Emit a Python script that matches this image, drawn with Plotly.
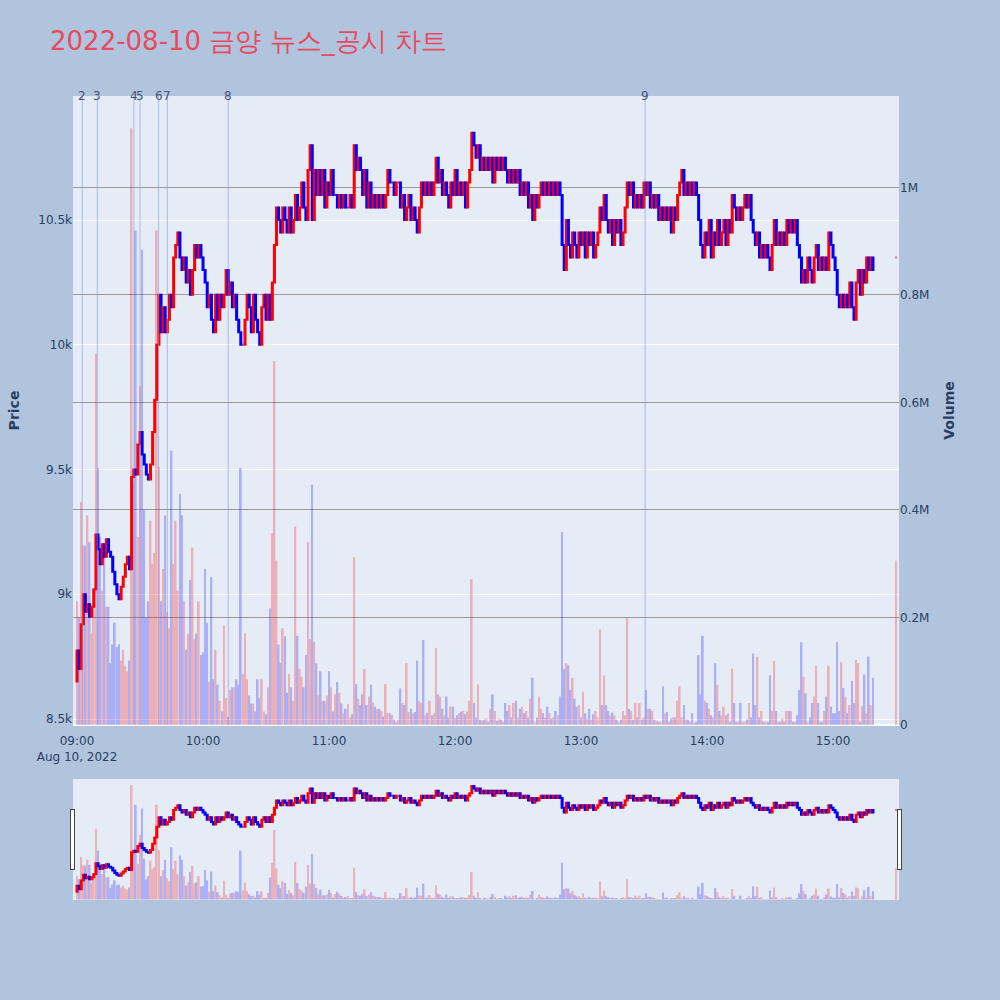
import plotly.graph_objects as go
import pandas as pd

# ---- data ----
session_start = "2022-08-10 09:00"
first_open = 8650
# minute closes 09:00 .. 15:19
closes = [
    8775, 8700, 8880, 9000, 8930, 8960, 8910, 8950, 9020, 9240,
    9180, 9120, 9200, 9150, 9220, 9170, 9150, 9090, 9040, 9000,
    8980, 9030, 9070, 9120, 9150, 9100, 9470, 9500, 9480, 9600,
    9650, 9560, 9520, 9480, 9460, 9520, 9650, 9780, 10000, 10200,
    10050, 10150, 10050, 10100, 10200, 10150, 10350, 10400, 10450, 10350,
    10300, 10350, 10250, 10300, 10200, 10300, 10400, 10350, 10400, 10350,
    10300, 10250, 10150, 10200, 10100, 10050, 10200, 10100, 10200, 10150,
    10200, 10300, 10200, 10250, 10150, 10200, 10100, 10050, 10000, 10000,
    10100, 10200, 10150, 10050, 10200, 10100, 10050, 10000, 10150, 10200,
    10100, 10200, 10100, 10250, 10400, 10550, 10500, 10450, 10550, 10500,
    10450, 10550, 10450, 10500, 10600, 10500, 10550, 10650, 10550, 10500,
    10700, 10800, 10500, 10700, 10600, 10700, 10600, 10700, 10550, 10650,
    10600, 10700, 10600, 10600, 10550, 10600, 10550, 10600, 10550, 10550,
    10600, 10550, 10800, 10700, 10750, 10700, 10600, 10700, 10550, 10650,
    10550, 10600, 10550, 10600, 10550, 10600, 10550, 10600, 10700, 10650,
    10650, 10600, 10650, 10650, 10550, 10600, 10500, 10550, 10600, 10500,
    10550, 10500, 10450, 10550, 10650, 10600, 10650, 10600, 10650, 10600,
    10650, 10750, 10650, 10700, 10600, 10650, 10600, 10550, 10650, 10600,
    10700, 10600, 10650, 10600, 10650, 10550, 10650, 10700, 10850, 10800,
    10750, 10800, 10700, 10750, 10700, 10750, 10700, 10750, 10650, 10750,
    10700, 10750, 10700, 10750, 10700, 10650, 10700, 10650, 10700, 10650,
    10700, 10600, 10650, 10600, 10650, 10550, 10600, 10500, 10600, 10550,
    10600, 10650, 10600, 10650, 10600, 10650, 10600, 10650, 10600, 10650,
    10600, 10400, 10300, 10500, 10400, 10350, 10450, 10400, 10350, 10450,
    10400, 10450, 10350, 10450, 10400, 10450, 10350, 10400, 10450, 10550,
    10500, 10600, 10500, 10450, 10500, 10400, 10500, 10450, 10500, 10400,
    10450, 10550, 10650, 10600, 10650, 10550, 10600, 10550, 10600, 10550,
    10650, 10600, 10650, 10550, 10600, 10550, 10600, 10500, 10550, 10500,
    10550, 10500, 10550, 10450, 10550, 10500, 10600, 10650, 10700, 10600,
    10650, 10600, 10650, 10600, 10650, 10600, 10500, 10400, 10350, 10450,
    10400, 10500, 10350, 10450, 10400, 10500, 10400, 10450, 10500, 10400,
    10500, 10450, 10600, 10550, 10500, 10550, 10500, 10550, 10600, 10550,
    10600, 10500, 10450, 10400, 10450, 10350, 10400, 10350, 10400, 10350,
    10300, 10400, 10500, 10400, 10450, 10400, 10450, 10400, 10500, 10450,
    10500, 10450, 10500, 10400, 10350, 10250, 10300, 10250, 10350, 10300,
    10250, 10350, 10400, 10300, 10350, 10300, 10350, 10300, 10450, 10400,
    10350, 10300, 10200, 10150, 10200, 10150, 10200, 10150, 10250, 10150,
    10100, 10250, 10300, 10200, 10300, 10250, 10350, 10300, 10350, 10300,
]
# minute volumes, thousand shares
volumes_k = [
    230, 200, 415, 334, 334, 390, 340, 170, 250, 690,
    478, 350, 250, 330, 220, 220, 115, 150, 190, 145,
    150, 120, 140, 110, 100, 120, 1110, 450, 920, 350,
    630, 884, 400, 200, 230, 380, 300, 320, 920, 480,
    230, 290, 390, 210, 180, 510, 300, 380, 250, 430,
    390, 230, 140, 170, 270, 330, 160, 170, 230, 130,
    135, 290, 190, 80, 275, 85, 140, 75, 45, 25,
    185, 50, 15, 65, 70, 70, 85, 75, 478, 95,
    170, 85, 55, 40, 40, 25, 85, 50, 85, 25,
    20, 70, 217, 357, 677, 306, 150, 115, 180, 165,
    60, 95, 70, 45, 369, 166, 105, 90, 70, 130,
    340, 160, 447, 155, 115, 55, 100, 45, 45, 55,
    100, 70, 25, 57, 80, 60, 40, 22, 30, 39,
    14, 20, 312, 76, 49, 37, 57, 104, 37, 53,
    75, 42, 34, 30, 30, 26, 16, 76, 22, 22,
    18, 10, 6, 10, 68, 41, 37, 115, 24, 30,
    22, 24, 120, 45, 41, 158, 18, 22, 45, 18,
    22, 143, 57, 53, 30, 18, 53, 14, 34, 34,
    13, 18, 22, 25, 26, 20, 25, 45, 271, 41,
    14, 76, 10, 8, 10, 12, 6, 30, 57, 26,
    8, 12, 10, 6, 41, 26, 37, 14, 41, 45,
    14, 30, 34, 22, 26, 14, 49, 88, 6, 14,
    53, 30, 22, 14, 34, 22, 12, 14, 26, 18,
    53, 359, 104, 115, 111, 65, 88, 49, 34, 37,
    14, 62, 22, 12, 30, 10, 20, 26, 14, 178,
    37, 92, 37, 26, 18, 23, 18, 10, 6, 10,
    26, 18, 199, 30, 26, 10, 41, 14, 41, 10,
    14, 65, 30, 30, 26, 10, 8, 6, 6, 72,
    22, 24, 6, 12, 14, 14, 45, 72, 14, 37,
    10, 10, 6, 22, 3, 6, 130, 57, 166, 45,
    41, 30, 18, 14, 115, 75, 26, 18, 34, 18,
    22, 6, 105, 41, 6, 6, 41, 6, 6, 10,
    41, 14, 133, 37, 127, 14, 26, 6, 6, 6,
    92, 26, 119, 26, 6, 6, 12, 6, 26, 26,
    26, 6, 6, 18, 65, 154, 90, 59, 6, 14,
    41, 53, 110, 41, 6, 6, 26, 53, 110, 34,
    22, 22, 154, 26, 117, 69, 53, 22, 37, 82,
    41, 121, 115, 6, 35, 94, 22, 127, 37, 88,
]
# closing single-price auction
auction_time = "2022-08-10 15:30"
auction_open = 10350
auction_close = 10350
auction_volume_k = 306

news_labels = ["2", "3", "4", "5", "6", "7", "8", "9"]
news_times = ["2022-08-10 09:02:30", "2022-08-10 09:09:40", "2022-08-10 09:27:05",
              "2022-08-10 09:30:00", "2022-08-10 09:38:50", "2022-08-10 09:43:00",
              "2022-08-10 10:12:00", "2022-08-10 13:30:30"]

# ---- assemble ----
times = list(pd.date_range(session_start, periods=len(closes), freq="min")) + [pd.Timestamp(auction_time)]
opens = [first_open] + closes[:-1] + [auction_open]
cls = closes + [auction_close]
highs = [max(o, c) for o, c in zip(opens, cls)]
lows = [min(o, c) for o, c in zip(opens, cls)]
vols = [v * 1000 for v in volumes_k + [auction_volume_k]]
vol_colors = ["red" if c >= o else "blue" for o, c in zip(opens, cls)]

fig = go.Figure()
fig.add_trace(go.Bar(x=times, y=vols, yaxis="y2", marker=dict(color=vol_colors, line_width=0),
                     opacity=0.25, name="Volume", showlegend=False))
fig.add_trace(go.Candlestick(x=times, open=opens, high=highs, low=lows, close=cls,
                             increasing=dict(line=dict(color="red", width=2), fillcolor="red"),
                             decreasing=dict(line=dict(color="blue", width=2), fillcolor="blue"),
                             name="Price", showlegend=False))

for lab, t in zip(news_labels, news_times):
    fig.add_shape(type="line", xref="x", yref="paper", x0=t, x1=t, y0=0, y1=1,
                  line=dict(color="rgba(120,145,235,0.55)", width=1), layer="above")
    fig.add_annotation(x=t, y=1, xref="x", yref="paper", text=lab, showarrow=False,
                       xanchor="center", yanchor="middle", font=dict(size=12, color="#445577"))

fig.update_layout(
    width=1000, height=1000,
    font=dict(family="DejaVu Sans, Verdana, sans-serif", color="#2a3f5f"),
    title=dict(text="2022-08-10 금양 뉴스_공시 차트", x=0.05, xanchor="left", y=0.959, yanchor="middle",
               font=dict(size=26, color="#E84A5F")),
    paper_bgcolor="#B0C4DE", plot_bgcolor="#E5ECF6",
    margin=dict(l=73, r=101, t=96, b=100),
    showlegend=False,
    bargap=0.2,
    xaxis=dict(type="date", range=["2022-08-10 08:58:05", "2022-08-10 15:31:25"], showgrid=False,
               ticks="outside", ticklen=5, tickcolor="rgba(0,0,0,0)",
               rangeslider=dict(visible=True, bgcolor="#E5ECF6", thickness=0.15)),
    yaxis=dict(title=dict(text="<b>Price</b>"), range=[8476, 10997], gridcolor="white", zeroline=False),
    yaxis2=dict(title=dict(text="<b>Volume</b>"), overlaying="y", side="right", range=[0, 1170000],
                gridcolor="#9a9a9a", zerolinecolor="white"),
)

fig.write_html("out.html", config={"displayModeBar": False},
               post_script="document.body.style.margin='0px';document.body.style.background='#B0C4DE';")
